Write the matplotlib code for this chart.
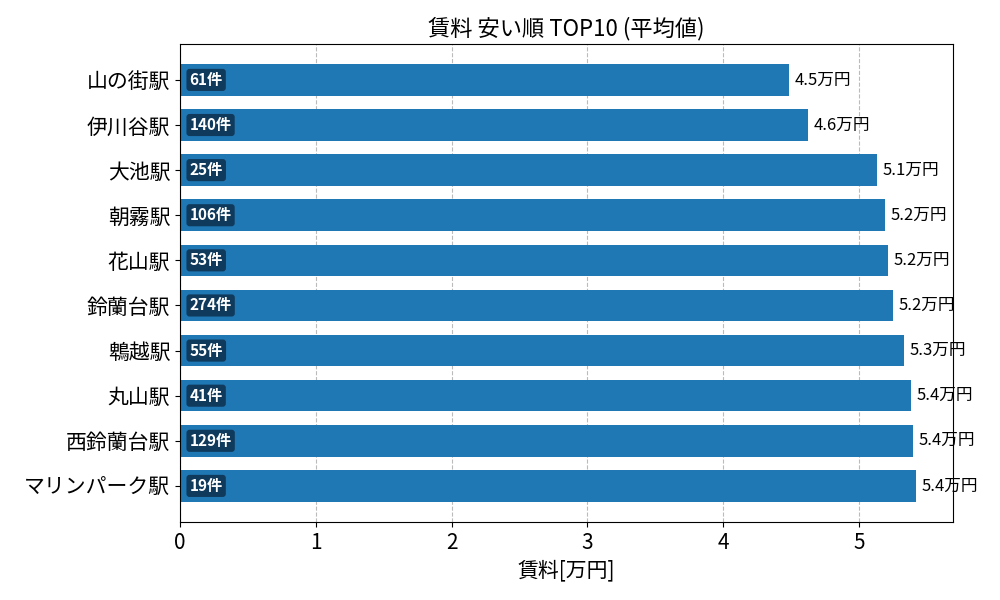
import matplotlib
matplotlib.use("Agg")
import matplotlib.pyplot as plt

plt.rcParams['font.family'] = ['Noto Sans CJK JP', 'DejaVu Sans']

stations = ["山の街駅", "伊川谷駅", "大池駅", "朝霧駅", "花山駅", "鈴蘭台駅", "鵯越駅", "丸山駅", "西鈴蘭台駅", "マリンパーク駅"]
rent = [4.485, 4.625, 5.13, 5.19, 5.21, 5.25, 5.33, 5.38, 5.40, 5.42]
counts = [61, 140, 25, 106, 53, 274, 55, 41, 129, 19]

fig, ax = plt.subplots(figsize=(10, 6), dpi=100)
y = list(range(len(stations)))
ax.barh(y, rent, height=0.7, color='#1f77b4', zorder=2)
ax.set_yticks(y)
ax.set_yticklabels(stations, fontsize=15)
ax.invert_yaxis()
ax.set_xlim(0, max(rent) * 1.05)
ax.set_ylim(len(stations) - 0.2, -0.8)
ax.tick_params(axis='x', labelsize=15)
ax.grid(axis='x', linestyle='--', color='#bbbbbb', zorder=0)
for yi, v, c in zip(y, rent, counts):
    ax.text(v + 0.04, yi, f"{v:.1f}万円", va='center', ha='left', fontsize=12)
    ax.text(0.07, yi, f"{c}件", va='center', ha='left', fontsize=11, color='white', fontweight='bold',
            bbox=dict(boxstyle='round,pad=0.2', fc='#0f3a5c', ec='none'))
ax.set_title("賃料 安い順 TOP10 (平均値)", fontsize=16)
ax.set_xlabel("賃料[万円]", fontsize=15)
fig.subplots_adjust(left=0.18, right=0.953, top=0.927, bottom=0.13)
fig.savefig("out.png")
